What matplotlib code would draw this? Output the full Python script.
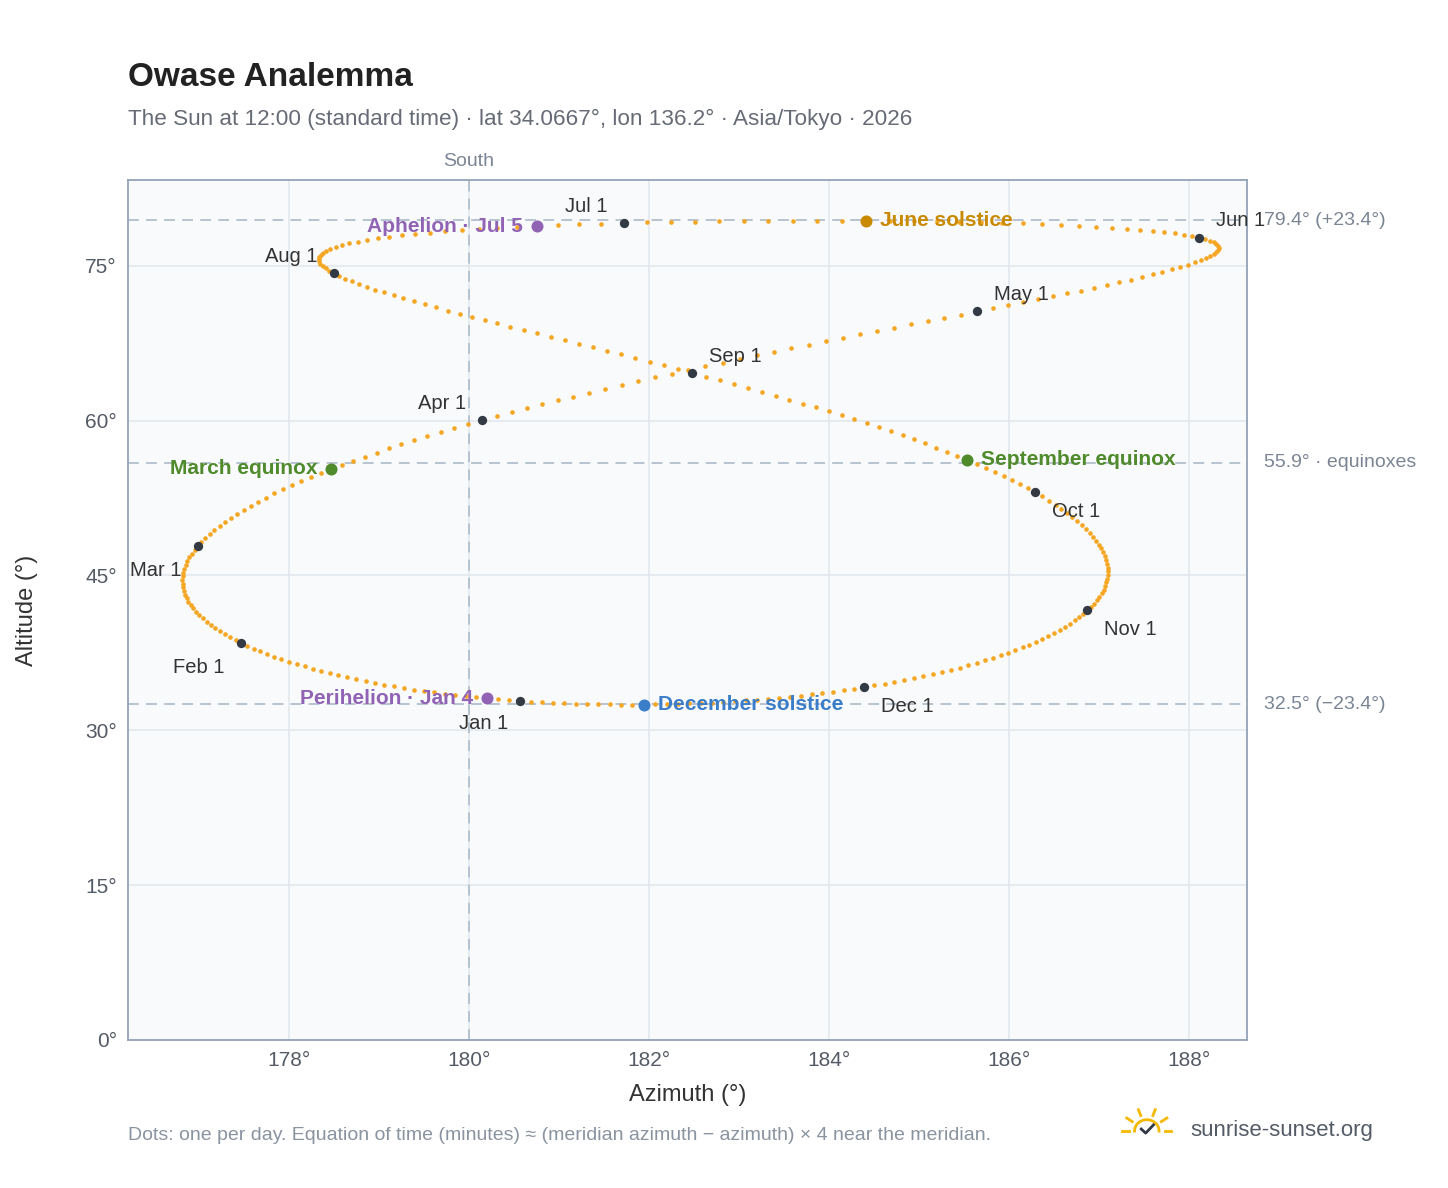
import numpy as np
import datetime as dt
import matplotlib
matplotlib.use('Agg')
import matplotlib.pyplot as plt

plt.rcParams['font.family'] = ['Liberation Sans', 'DejaVu Sans']

LAT = 34.0667
LON = 136.2
UTC_OFFSET = 9
YEAR = 2026

# month markers: (label, month, text offset in points, ha)
MONTHS = [('Jan 1', 1, (-8, -16), 'right'), ('Feb 1', 2, (-12, -18), 'right'),
          ('Mar 1', 3, (-12, -18), 'right'), ('Apr 1', 4, (-12, 12), 'right'),
          ('May 1', 5, (12, 12), 'left'), ('Jun 1', 6, (12, 12), 'left'),
          ('Jul 1', 7, (-12, 12), 'right'), ('Aug 1', 8, (-12, 12), 'right'),
          ('Sep 1', 9, (12, 12), 'left'), ('Oct 1', 10, (12, -14), 'left'),
          ('Nov 1', 11, (12, -14), 'left'), ('Dec 1', 12, (12, -14), 'left')]
EVENTS = [('Perihelion · Jan 4', (1, 4), '#9163b5', 'right'),
          ('Aphelion · Jul 5', (7, 5), '#9163b5', 'right'),
          ('March equinox', (3, 20), '#4f8a2b', 'right'),
          ('September equinox', (9, 23), '#4f8a2b', 'left'),
          ('June solstice', (6, 21), '#c98a00', 'left'),
          ('December solstice', (12, 21), '#3a7dc9', 'left')]
REF_LINES = [(79.4, '79.4° (+23.4°)'), (55.9, '55.9° · equinoxes'), (32.5, '32.5° (−23.4°)')]


def sun_pos(doy):
    # NOAA approximation at 12:00 local standard time
    g = 2 * np.pi / 365 * (doy - 1 + (12 - UTC_OFFSET - 12) / 24)
    eot = 229.18 * (0.000075 + 0.001868 * np.cos(g) - 0.032077 * np.sin(g)
                    - 0.014615 * np.cos(2 * g) - 0.040849 * np.sin(2 * g))
    dec = (0.006918 - 0.399912 * np.cos(g) + 0.070257 * np.sin(g) - 0.006758 * np.cos(2 * g)
           + 0.000907 * np.sin(2 * g) - 0.002697 * np.cos(3 * g) + 0.00148 * np.sin(3 * g))
    tst = 720 + eot + 4 * LON - 60 * UTC_OFFSET
    H = np.radians((tst - 720) / 4)
    phi = np.radians(LAT)
    alt = np.degrees(np.arcsin(np.sin(phi) * np.sin(dec) + np.cos(phi) * np.cos(dec) * np.cos(H)))
    az = np.degrees(np.arctan2(np.sin(H), np.cos(H) * np.sin(phi) - np.tan(dec) * np.cos(phi))) + 180
    return az, alt


def doy_of(m, d):
    return dt.date(YEAR, m, d).timetuple().tm_yday


days = np.arange(1, 366)
az, alt = sun_pos(days)

fig = plt.figure(figsize=(14.48, 11.88), dpi=100)
ax = fig.add_axes([0.0884, 0.1246, 0.7728, 0.7239])
ax.set_facecolor('#f8fafc')
ax.set_xlim(176.21, 188.65)
ax.set_ylim(0, 83.3)
ax.grid(True, color='#e3e8ee', lw=1.2)
ax.set_axisbelow(True)
for s in ax.spines.values():
    s.set_color('#94a3b8')
    s.set_linewidth(1.3)
ax.set_xticks([178, 180, 182, 184, 186, 188])
ax.set_xticklabels([f'{v}°' for v in [178, 180, 182, 184, 186, 188]])
ax.set_yticks([0, 15, 30, 45, 60, 75])
ax.set_yticklabels([f'{v}°' for v in [0, 15, 30, 45, 60, 75]])
ax.tick_params(colors='#555b66', labelsize=15, length=0, pad=8)
ax.set_xlabel('Azimuth (°)', fontsize=17, color='#333333', labelpad=10)
ax.set_ylabel('Altitude (°)', fontsize=17, color='#333333', labelpad=34)

for y, lab in REF_LINES:
    ax.axhline(y, color='#b3bfcc', ls=(0, (6, 4)), lw=1.3, zorder=1)
    ax.annotate(lab, xy=(1, y), xycoords=('axes fraction', 'data'), xytext=(12, 0),
                textcoords='offset points', va='center', fontsize=14, color='#7b8594')
ax.axvline(180, color='#b3bfcc', ls=(0, (6, 4)), lw=1.3, zorder=1)
ax.annotate('South', xy=(180, 1), xycoords=('data', 'axes fraction'), xytext=(0, 10),
            textcoords='offset points', ha='center', fontsize=14, color='#7b8594')

ax.scatter(az, alt, s=11, color='#f5a623', zorder=3, lw=0)

for lab, m, off, ha in MONTHS:
    x, y = sun_pos(doy_of(m, 1))
    ax.scatter([x], [y], s=45, color='#333a44', zorder=5, lw=0)
    ax.annotate(lab, (x, y), xytext=off, textcoords='offset points', ha=ha, va='center',
                fontsize=14.5, color='#333333', zorder=6)

for lab, (m, d), c, ha in EVENTS:
    x, y = sun_pos(doy_of(m, d))
    ax.scatter([x], [y], s=75, color=c, zorder=5, lw=0)
    ax.annotate(lab, (x, y), xytext=(-10 if ha == 'right' else 10, 0), textcoords='offset points',
                ha=ha, va='center', fontsize=15, fontweight='bold', color=c, zorder=6)

fig.text(0.0884, 0.928, 'Owase Analemma', fontsize=24, fontweight='bold', color='#222222')
fig.text(0.0884, 0.895, 'The Sun at 12:00 (standard time) · lat 34.0667°, lon 136.2° · Asia/Tokyo · 2026',
         fontsize=16.2, color='#666b75')
fig.text(0.0884, 0.04, 'Dots: one per day. Equation of time (minutes) ≈ (meridian azimuth − azimuth) × 4 near the meridian.',
         fontsize=14, color='#8a93a0')

# logo
lx, ly = 0.792, 0.052
lax = fig.add_axes([lx - 0.02, ly - 0.018, 0.04, 0.04])
lax.set_xlim(-1.3, 1.3)
lax.set_ylim(-0.8, 1.5)
lax.axis('off')
t = np.linspace(0, np.pi, 50)
lax.plot(0.55 * np.cos(t), 0.55 * np.sin(t), color='#f5b800', lw=2)
for a in np.radians([0, 35, 70, 110, 145, 180]):
    lax.plot([0.8 * np.cos(a), 1.1 * np.cos(a)], [0.8 * np.sin(a), 1.1 * np.sin(a)], color='#f5b800', lw=2)
lax.plot([-0.25, -0.05, 0.3], [0.1, -0.1, 0.3], color='#333a44', lw=2)
fig.text(0.822, 0.044, 'sunrise-sunset.org', fontsize=16, color='#555b66')

fig.savefig('out.png', dpi=100)
